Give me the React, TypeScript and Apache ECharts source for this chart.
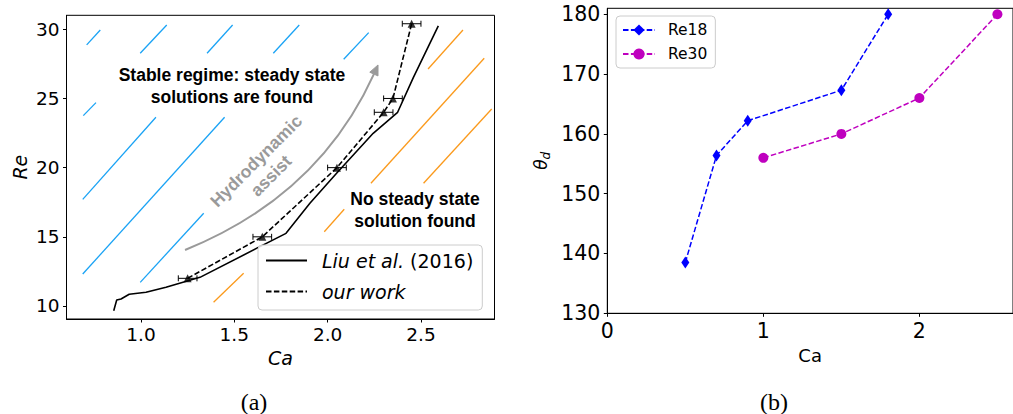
import React, { useEffect, useRef } from "react";
import * as echarts from "echarts";

// ---------- Panel (a) data ----------
const liuCa = [0.854, 0.87, 0.893, 0.937, 1.027, 1.134, 1.316, 1.777, 1.905, 2.048, 2.244, 2.375, 2.459, 2.593];
const liuRe = [9.66, 10.43, 10.51, 10.85, 10.99, 11.35, 12.07, 15.25, 17.42, 19.59, 22.48, 24.0, 26.5, 30.24];
const ourCa = [1.25, 1.65, 2.05, 2.3, 2.35, 2.45];
const ourRe = [12, 15, 20, 24, 25, 30.4];
const ourCaErr = [0.05, 0.05, 0.05, 0.05, 0.05, 0.05];
// hatch segments [Ca1, Re1, Ca2, Re2]
const blueHatch = [
  [0.709, 28.87, 0.782, 29.95],
  [0.996, 28.27, 1.138, 30.31],
  [1.354, 28.27, 1.491, 30.31],
  [1.709, 28.27, 1.848, 30.31],
  [2.086, 27.83, 2.22, 29.76],
  [0.691, 23.76, 0.759, 24.7],
  [0.688, 17.71, 1.08, 23.64],
  [0.688, 12.31, 1.448, 23.64],
  [0.996, 11.71, 1.336, 16.7],
];
const orangeHatch = [
  [2.538, 27.13, 2.725, 29.95],
  [2.232, 18.87, 2.839, 27.91],
  [2.514, 18.87, 2.879, 24.24],
  [1.982, 15.37, 2.089, 16.99],
  [1.389, 10.27, 1.55, 12.36],
];
const arrowEnds = [[1.236, 14.05, 2.27, 27.42]];
const aXTicks = [1.0, 1.5, 2.0, 2.5];
const aYTicks = [10, 15, 20, 25, 30];

// ---------- Panel (b) data ----------
const re18Ca = [0.5, 0.7, 0.9, 1.5, 1.8];
const re18Theta = [138.5, 156.4, 162.2, 167.3, 180];
const re30Ca = [1.0, 1.5, 2.0, 2.5];
const re30Theta = [156, 160, 166, 180];

const zip = (a: number[], b: number[]) => a.map((v, i) => [v, b[i]]);

const FONT = "DejaVu Sans";
const AFONT = "Liberation Sans";

function segRenderer(color: string) {
  return (_p: any, api: any) => {
    const p1 = api.coord([api.value(0), api.value(1)]);
    const p2 = api.coord([api.value(2), api.value(3)]);
    return {
      type: "line",
      shape: { x1: p1[0], y1: p1[1], x2: p2[0], y2: p2[1] },
      style: { stroke: color, lineWidth: 1.3 },
    };
  };
}

export default function App() {
  const ref = useRef<HTMLDivElement>(null);
  useEffect(() => {
    const chart = echarts.init(ref.current!, null, { renderer: "svg" });
    const axisLine = { show: true, lineStyle: { color: "#000", width: 1 } };
    const tick = { show: true, inside: false, length: 3.5, lineStyle: { color: "#000", width: 1 } };
    const option: any = {
      animation: false,
      backgroundColor: "#fff",
      grid: [
        { left: 66.5, top: 15.3, width: 428, height: 303.7, show: true, borderColor: "#000", borderWidth: 1, backgroundColor: "transparent" },
        { left: 607.3, top: 8.3, width: 409.1, height: 305, show: true, borderColor: "#000", borderWidth: 1, backgroundColor: "transparent" },
      ],
      xAxis: [
        {
          type: "value", gridIndex: 0, min: 0.601, max: 2.894,
          axisLine, axisTick: { ...tick, customValues: aXTicks },
          axisLabel: { customValues: aXTicks, formatter: (v: number) => v.toFixed(1), fontFamily: FONT, fontSize: 18.5, color: "#000", margin: 6 },
          splitLine: { show: false },
          name: "Ca", nameLocation: "middle", nameGap: 26,
          nameTextStyle: { fontFamily: FONT, fontStyle: "italic", fontSize: 19, color: "#000" },
        },
        {
          type: "value", gridIndex: 1, min: 0, max: 2.6, interval: 1,
          axisLine, axisTick: tick,
          axisLabel: { fontFamily: FONT, fontSize: 20.5, color: "#000", margin: 7, showMaxLabel: false },
          splitLine: { show: false },
          name: "Ca", nameLocation: "middle", nameGap: 33,
          nameTextStyle: { fontFamily: FONT, fontSize: 18, color: "#000" },
        },
      ],
      yAxis: [
        {
          type: "value", gridIndex: 0, min: 9.06, max: 31.01,
          axisLine, axisTick: { ...tick, customValues: aYTicks },
          axisLabel: { customValues: aYTicks, fontFamily: FONT, fontSize: 18.5, color: "#000", margin: 7 },
          splitLine: { show: false },
          name: "Re", nameLocation: "middle", nameGap: 37,
          nameTextStyle: { fontFamily: FONT, fontStyle: "italic", fontSize: 19, color: "#000" },
        },
        {
          type: "value", gridIndex: 1, min: 130, max: 181, interval: 10,
          axisLine, axisTick: tick,
          axisLabel: { fontFamily: FONT, fontSize: 20.5, color: "#000", margin: 7 },
          splitLine: { show: false },
          name: "{t|θ}{s|d}", nameLocation: "middle", nameGap: 55,
          nameTextStyle: {
            color: "#000",
            rich: {
              t: { fontFamily: FONT, fontStyle: "italic", fontSize: 17, lineHeight: 22, color: "#000" },
              s: { fontFamily: FONT, fontStyle: "italic", fontSize: 12, lineHeight: 12, verticalAlign: "bottom", color: "#000" },
            },
          },
        },
      ],
      legend: [
        {
          data: ["Liu et al. (2016)", "our work"],
          orient: "vertical", left: 258, top: 245,
          padding: [6, 9, 9, 7], itemGap: 12, itemWidth: 41, itemHeight: 14,
          backgroundColor: "rgba(255,255,255,0.85)", borderColor: "#cccccc", borderWidth: 1, borderRadius: 4,
          selectedMode: false,
          itemStyle: { opacity: 0 },
          formatter: (n: string) => (n === "our work" ? "{i|our work}" : "{i|Liu et al.} (2016)"),
          textStyle: {
            fontFamily: FONT, fontSize: 19, color: "#000", padding: [0, 0, 0, 10],
            rich: { i: { fontFamily: FONT, fontStyle: "italic", fontSize: 19, color: "#000" } },
          },
        },
        {
          data: ["Re18", "Re30"],
          orient: "vertical", left: 616, top: 16,
          padding: [6, 8, 6, 6], itemGap: 8, itemWidth: 32, itemHeight: 14,
          backgroundColor: "rgba(255,255,255,0.85)", borderColor: "#cccccc", borderWidth: 1, borderRadius: 4,
          selectedMode: false,
          textStyle: { fontFamily: FONT, fontSize: 15.5, color: "#000", padding: [0, 0, 0, 8] },
        },
      ],
      series: [
        { type: "custom", name: "blue hatch", xAxisIndex: 0, yAxisIndex: 0, data: blueHatch, encode: { x: [0, 2], y: [1, 3] }, renderItem: segRenderer("#1aa3f5"), z: 1 },
        { type: "custom", name: "orange hatch", xAxisIndex: 0, yAxisIndex: 0, data: orangeHatch, encode: { x: [0, 2], y: [1, 3] }, renderItem: segRenderer("#fb9a1c"), z: 1 },
        {
          type: "custom", name: "arrow", xAxisIndex: 0, yAxisIndex: 0, data: arrowEnds, encode: { x: [0, 2], y: [1, 3] }, z: 1,
          renderItem: (_p: any, api: any) => {
            const a = api.coord([api.value(0), api.value(1)]);
            const b = api.coord([api.value(2), api.value(3)]);
            const dx = b[0] - a[0], dy = b[1] - a[1];
            const c = [(a[0] + b[0]) / 2 - 0.2 * dy, (a[1] + b[1]) / 2 + 0.2 * dx];
            const tx = b[0] - c[0], ty = b[1] - c[1];
            const tl = Math.hypot(tx, ty);
            const ux = tx / tl, uy = ty / tl;
            const L = 10, W = 4.5;
            const bx = b[0] - ux * L, by = b[1] - uy * L;
            return {
              type: "group",
              children: [
                { type: "bezierCurve", shape: { x1: a[0], y1: a[1], x2: bx, y2: by, cpx1: c[0], cpy1: c[1] }, style: { stroke: "#9a9a9a", lineWidth: 2, fill: null } },
                { type: "polygon", shape: { points: [[b[0], b[1]], [bx - uy * W, by + ux * W], [bx + uy * W, by - ux * W]] }, style: { fill: "#9a9a9a", stroke: "#9a9a9a", lineWidth: 1 } },
              ],
            };
          },
        },
        {
          type: "line", name: "Liu et al. (2016)", xAxisIndex: 0, yAxisIndex: 0, data: zip(liuCa, liuRe),
          symbol: "none", lineStyle: { color: "#000", width: 1.6 }, itemStyle: { color: "#000" }, z: 3,
        },
        {
          type: "line", name: "our work", xAxisIndex: 0, yAxisIndex: 0, data: zip(ourCa, ourRe),
          symbol: "none", lineStyle: { color: "#000", width: 1.6, type: [5.5, 2.4] }, itemStyle: { color: "#000" }, z: 3,
        },
        {
          type: "custom", name: "error bars", xAxisIndex: 0, yAxisIndex: 0, data: ourCa.map((c, i) => [c, ourRe[i], ourCaErr[i]]),
          encode: { x: 0, y: 1 }, z: 4,
          renderItem: (_p: any, api: any) => {
            const ca = api.value(0), re = api.value(1), e = api.value(2);
            const a = api.coord([ca - e, re]);
            const b = api.coord([ca + e, re]);
            const st = { stroke: "#000", lineWidth: 1 };
            return {
              type: "group",
              children: [
                { type: "line", shape: { x1: a[0], y1: a[1], x2: b[0], y2: b[1] }, style: st },
                { type: "line", shape: { x1: a[0], y1: a[1] - 3, x2: a[0], y2: a[1] + 3 }, style: st },
                { type: "line", shape: { x1: b[0], y1: b[1] - 3, x2: b[0], y2: b[1] + 3 }, style: st },
              ],
            };
          },
        },
        {
          type: "scatter", name: "our work points", xAxisIndex: 0, yAxisIndex: 0, data: zip(ourCa, ourRe),
          symbol: "triangle", symbolSize: 8, itemStyle: { color: "#000" }, z: 5,
        },
        {
          type: "line", name: "Re18", xAxisIndex: 1, yAxisIndex: 1, data: zip(re18Ca, re18Theta),
          symbol: "diamond", symbolSize: [8, 12], lineStyle: { color: "#0000ff", width: 1.5, type: [5.5, 2.4] },
          itemStyle: { color: "#0000ff" }, z: 3,
        },
        {
          type: "line", name: "Re30", xAxisIndex: 1, yAxisIndex: 1, data: zip(re30Ca, re30Theta),
          symbol: "circle", symbolSize: 10, lineStyle: { color: "#bf00bf", width: 1.5, type: [5.5, 2.4] },
          itemStyle: { color: "#bf00bf" }, z: 3,
        },
      ],
      graphic: [
        {
          type: "text", x: 232, y: 86, z: 10,
          style: { text: "Stable regime: steady state\nsolutions are found", align: "center", verticalAlign: "middle", fontFamily: AFONT, fontWeight: "bold", fontSize: 17.5, lineHeight: 22, fill: "#000" },
        },
        {
          type: "text", x: 415, y: 210, z: 10,
          style: { text: "No steady state\nsolution found", align: "center", verticalAlign: "middle", fontFamily: AFONT, fontWeight: "bold", fontSize: 17.5, lineHeight: 22, fill: "#000" },
        },
        {
          type: "text", x: 263.5, y: 168.3, rotation: Math.PI / 4, z: 10,
          style: { text: "Hydrodynamic\nassist", align: "center", verticalAlign: "middle", fontFamily: AFONT, fontWeight: "bold", fontSize: 17.5, lineHeight: 21, fill: "#9a9a9a" },
        },
        {
          type: "text", x: 254, y: 402, z: 10,
          style: { text: "(a)", align: "center", verticalAlign: "middle", fontFamily: "Liberation Serif", fontSize: 24, fill: "#000" },
        },
        {
          type: "text", x: 774, y: 402, z: 10,
          style: { text: "(b)", align: "center", verticalAlign: "middle", fontFamily: "Liberation Serif", fontSize: 24, fill: "#000" },
        },
      ],
    };
    chart.setOption(option);
    return () => chart.dispose();
  }, []);
  return <div ref={ref} style={{ position: "fixed", left: 0, top: 0, width: 1013, height: 414 }} />;
}
